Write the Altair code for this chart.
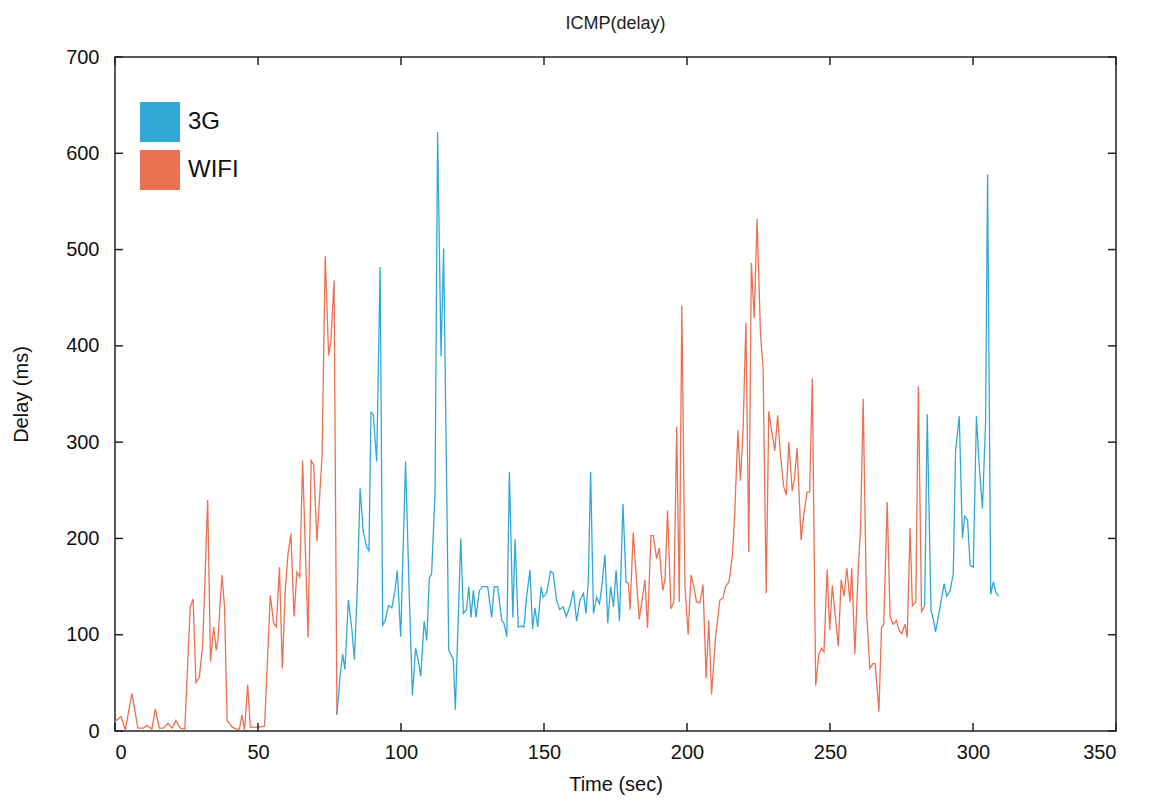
import altair as alt
import pandas as pd

# ---- data ----
wifi1_t = [0, 2.1, 3.6, 5.9, 8, 10, 11.2, 12.9, 14.1, 15.5, 17, 18.5, 20, 21.3, 22.8, 24.4, 26.3, 27.3,
           28.3, 29.5, 30.7, 32.4, 33.4, 34.5, 35.4, 36, 37.4, 38.3, 39.2, 41, 42.5, 43.5, 44.4, 45.3,
           46.4, 47.3, 48.5, 50.2, 52.3, 54.3, 55.5, 56.4, 57.5, 58.5, 59.5, 60.5, 61.5, 62.6, 63.6,
           64.6, 65.6, 67.5, 68.6, 69.5, 70.6, 72.4, 73.5, 74.7, 75.5, 76.6, 77.6]
wifi1_v = [10, 15, 1, 39, 3, 3, 6, 2, 23, 3, 3, 8, 3, 11, 3, 2, 129, 137,
           50, 56, 91, 240, 72, 108, 84, 95, 162, 129, 11, 4, 2, 2, 17, 1,
           48, 4, 4, 4, 5, 141, 112, 108, 170, 65, 145, 184, 205, 119, 165,
           160, 281, 97, 281, 276, 197, 285, 493, 390, 405, 468, 17]

g3a_t = [77.6, 78.7, 79.6, 80.4, 81.6, 82.8, 83.7, 84.7, 85.7, 86.8, 88, 88.8, 89.5, 90.3, 91.5, 92.7,
         93.6, 94.4, 95.6, 96.8, 97.9, 98.7, 99.9, 101.6, 102.8, 104, 105.1, 106, 106.9, 108.1, 109,
         109.9, 110.7, 111.9, 112.8, 114, 114.9, 116.7, 118.3, 119, 120.9, 121.8, 122.9, 123.7, 124.5,
         125.3, 126.2, 127.4, 128.5, 130.3, 131.7, 132.6, 133.8, 135.2, 136, 137, 137.9, 139.1, 139.9,
         141, 142.2, 143, 143.9, 145.1, 146, 146.8, 147.8, 149, 149.7, 150.9, 152.3, 153.2, 154.4,
         155.5, 156.7, 157.8, 159, 160.3, 161.4, 162.6, 163.8, 164.7, 165.5, 166.3, 167.3, 168.4,
         169.4, 170.2, 171.3, 172.3, 173.3, 174.3, 175.2, 176.4, 177.6, 178.7, 179.5]
g3a_v = [17, 57, 80, 64, 136, 106, 74, 146, 252, 207, 191, 187, 331, 329, 280, 482,
         110, 114, 130, 128, 146, 167, 98, 280, 150, 37, 86, 74, 57, 114, 94,
         159, 163, 248, 622, 389, 501, 84, 74, 22, 200, 122, 126, 150, 118,
         146, 118, 146, 150, 150, 118, 150, 150, 115, 112, 98, 269, 118, 199,
         108, 109, 108, 139, 167, 106, 128, 108, 150, 139, 143, 166, 164, 136,
         126, 129, 119, 129, 146, 114, 136, 143, 122, 157, 269, 122, 139,
         132, 150, 183, 112, 150, 129, 167, 114, 236, 154, 154]

wifi2_t = [179.5, 180.1, 181.2, 183.3, 185.3, 186.2, 187.4, 188.2, 189.4, 190.3, 191.5, 192.3, 193.2,
           194.4, 195.4, 196.4, 197.3, 198.2, 199.3, 200.4, 201.4, 202.4, 203.3, 204.5, 205.6, 206.7,
           207.6, 208.6, 210, 211.5, 212.6, 213.5, 214.7, 215.8, 216.6, 217.8, 218.7, 219.6, 220.6,
           221.6, 222.5, 223.5, 224.5, 225.7, 226.6, 227.7, 228.6, 229.7, 230.7, 231.7, 232.6, 233.8,
           234.7, 235.6, 236.8, 237.6, 238.5, 239.9, 240.8, 242, 242.9, 243.8, 245, 246.1, 247.1,
           247.9, 249, 249.9, 250.8, 251.8, 252.9, 253.9, 254.9, 255.9, 257, 257.6, 258.7, 259.9,
           260.7, 261.6, 262.8, 263.9, 265, 265.8, 267.1, 268, 268.8, 270, 271, 272.1, 273.2, 274.1,
           275.1, 276.2, 277, 278, 278.8, 280, 280.9, 282, 283.1]
wifi2_v = [154, 126, 206, 116, 157, 107, 203, 203, 179, 190, 146, 157, 229,
           127, 134, 316, 134, 442, 150, 100, 162, 150, 134, 133, 152, 55,
           115, 38, 98, 136, 138, 150, 155, 181, 219, 312, 260, 312, 424,
           186, 486, 429, 532, 412, 377, 143, 332, 310, 291, 328, 289, 254,
           245, 300, 249, 263, 294, 198, 224, 248, 248, 366, 47, 80, 86,
           82, 168, 105, 151, 121, 88, 157, 140, 169, 134, 169, 80, 170,
           211, 345, 124, 65, 70, 70, 20, 107, 111, 238, 119, 111, 115, 105,
           101, 111, 97, 211, 130, 134, 358, 124, 130]

g3b_t = [283.1, 284, 285.3, 286.2, 286.9, 288.2, 289.9, 290.8, 292, 293.1, 293.9, 295.2, 296.3, 297.1,
         298.1, 299, 300.1, 301.2, 302.1, 303.3, 304.4, 305.1, 306.2, 307.1, 308, 309]
g3b_v = [130, 329, 126, 115, 103, 124, 153, 140, 146, 163, 290, 327, 200, 223,
         219, 172, 170, 327, 279, 231, 321, 578, 142, 155, 144, 140]

x_ticks = [0, 50, 100, 150, 200, 250, 300, 350]
y_ticks = [0, 100, 200, 300, 400, 500, 600, 700]
networks = ["3G", "WIFI"]
line_colors = ["#33A8D4", "#EC7052"]

rows = []
for seg, (net, ts, vs) in enumerate([("WIFI", wifi1_t, wifi1_v), ("3G", g3a_t, g3a_v),
                                      ("WIFI", wifi2_t, wifi2_v), ("3G", g3b_t, g3b_v)]):
    for i, (t, v) in enumerate(zip(ts, vs)):
        rows.append({"t": t, "v": v, "net": net, "seg": seg, "i": i})
df = pd.DataFrame(rows)

W, H = 1001, 674
FONT = "Liberation Sans, Arial, sans-serif"

xs = alt.Scale(domain=[0, 350], nice=False)
ys = alt.Scale(domain=[0, 700], nice=False)

lines = alt.Chart(df).mark_line(strokeWidth=1.3).encode(
    x=alt.X("t:Q", scale=xs, title="Time (sec)",
            axis=alt.Axis(values=x_ticks, ticks=False, domain=False, grid=False,
                          labelPadding=11, titlePadding=12)),
    y=alt.Y("v:Q", scale=ys, title="Delay (ms)",
            axis=alt.Axis(values=y_ticks, ticks=False, domain=False, grid=False,
                          labelPadding=16, titlePadding=34)),
    color=alt.Color("net:N", scale=alt.Scale(domain=networks, range=line_colors),
                    legend=alt.Legend(title=None, orient="none", legendX=25, legendY=45,
                                      symbolType="square", symbolSize=400,
                                      symbolStrokeWidth=20, labelFontSize=24,
                                      labelOffset=8, rowPadding=8, padding=0,
                                      clipHeight=40, labelFont=FONT, labelColor="#111")),
    detail="seg:N",
    order="i:Q",
)

xt = pd.DataFrame({"t": x_ticks})
yt = pd.DataFrame({"v": y_ticks})
tick_style = dict(color="#222", strokeWidth=1.5)
bottom_ticks = alt.Chart(xt).mark_rule(**tick_style).encode(
    x=alt.X("t:Q", scale=xs), y=alt.value(H), y2=alt.value(H - 8))
top_ticks = alt.Chart(xt).mark_rule(**tick_style).encode(
    x=alt.X("t:Q", scale=xs), y=alt.value(0), y2=alt.value(8))
left_ticks = alt.Chart(yt).mark_rule(**tick_style).encode(
    y=alt.Y("v:Q", scale=ys), x=alt.value(0), x2=alt.value(8))
right_ticks = alt.Chart(yt).mark_rule(**tick_style).encode(
    y=alt.Y("v:Q", scale=ys), x=alt.value(W), x2=alt.value(W - 8))

chart = alt.layer(lines, bottom_ticks, top_ticks, left_ticks, right_ticks).properties(
    width=W, height=H,
    title=alt.TitleParams("ICMP(delay)", offset=14),
    autosize=alt.AutoSizeParams(type="none"),
    padding={"left": 107, "top": 49, "right": 25, "bottom": 70},
).configure_view(
    stroke="#222", strokeWidth=1.5
).configure_title(
    fontSize=18, font=FONT, fontWeight="normal", color="#222"
).configure_axis(
    labelFont=FONT, titleFont=FONT, labelFontSize=20, titleFontSize=20,
    titleFontWeight="normal", labelColor="#111", titleColor="#111"
)

chart.save("out.html", embed_options={"renderer": "svg", "actions": False})
